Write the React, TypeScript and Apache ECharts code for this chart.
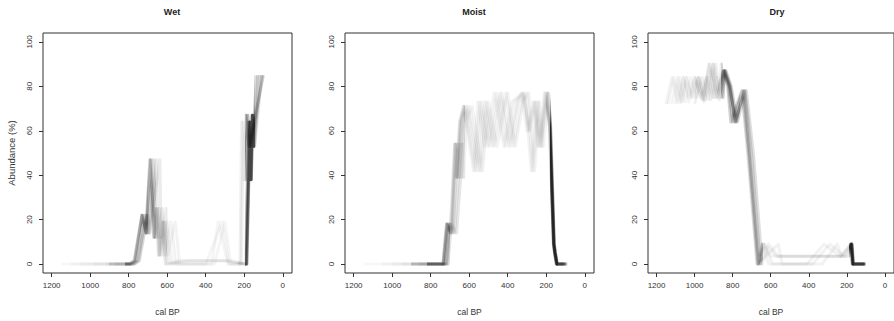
import { useEffect, useRef } from "react";
import * as echarts from "echarts";

const panelTitles = ["Wet", "Moist", "Dry"];
const xTicks = [0, 200, 400, 600, 800, 1000, 1200];
const yTicks = [0, 20, 40, 60, 80, 100];

// Wet: abundance per sample (old -> young); two value variants, ages per age-model run
const wetValuesA = [0, 0, 1.5, 22, 14, 47, 12, 25, 4, 19, 0, 1.5, 1.5, 1.5, 1.5, 0, 64, 38, 67, 53, 85];
const wetValuesB = [0, 0, 1.5, 22, 14, 47, 12, 25, 4, 19, 0, 0, 0, 19, 0, 0, 64, 38, 67, 53, 85];
const wetRunSet = [0, 0, 1, 0, 1, 1];
const wetAges = [
  [1150, 800, 772, 732, 712, 690, 670, 658, 646, 625, 610, 540, 430, 335, 300, 190, 172, 165, 158, 150, 130],
  [1050, 795, 770, 731, 710, 688, 668, 655, 642, 620, 600, 525, 415, 325, 290, 188, 170, 164, 157, 148, 120],
  [980, 790, 766, 730, 708, 685, 664, 650, 638, 612, 590, 510, 400, 315, 280, 186, 169, 163, 155, 146, 110],
  [920, 782, 760, 720, 702, 672, 658, 640, 630, 600, 575, 495, 390, 305, 265, 195, 176, 168, 160, 152, 138],
  [870, 775, 752, 710, 696, 655, 648, 625, 615, 580, 555, 480, 370, 335, 285, 215, 205, 195, 182, 165, 104],
  [1100, 768, 745, 702, 690, 638, 632, 605, 598, 558, 535, 470, 355, 300, 270, 222, 214, 204, 192, 175, 100],
];

// Moist
const moistValuesA = [0, 0, 0, 18, 14, 54, 39, 64, 71, 42, 73, 53, 77, 53, 73, 77, 60, 73, 53, 77, 62, 9, 5, 0, 0];
const moistValuesB = [0, 0, 0, 18, 14, 54, 39, 64, 71, 42, 73, 53, 77, 53, 73, 77, 42, 73, 53, 77, 62, 9, 5, 0, 0];
const moistRunSet = [0, 0, 0, 1, 1, 1];
const moistAges = [
  [950, 800, 737, 718, 698, 676, 668, 650, 630, 578, 555, 520, 470, 420, 380, 322, 290, 262, 238, 200, 182, 161, 155, 145, 100],
  [1150, 795, 735, 716, 694, 673, 664, 646, 625, 570, 545, 505, 455, 410, 365, 318, 285, 255, 232, 195, 181, 160, 154, 143, 105],
  [1050, 790, 732, 712, 690, 668, 660, 640, 618, 560, 535, 495, 440, 395, 350, 330, 300, 268, 245, 205, 183, 162, 156, 146, 95],
  [900, 780, 725, 705, 684, 660, 652, 632, 610, 548, 520, 480, 430, 385, 345, 312, 278, 250, 228, 190, 179, 159, 153, 144, 110],
  [1000, 770, 718, 700, 676, 645, 640, 625, 600, 540, 510, 470, 410, 370, 330, 300, 270, 240, 222, 210, 184, 163, 157, 148, 98],
  [860, 760, 710, 692, 665, 632, 628, 615, 585, 530, 500, 455, 400, 360, 320, 290, 260, 235, 215, 188, 177, 158, 152, 142, 90],
];

// Dry
const dryValuesA = [72, 84, 73, 84, 75, 84, 74, 90, 75, 87, 80, 64, 78, 49, 0, 9, 3.5, 3.5, 3.5, 3.5, 3.5, 9, 0, 0];
const dryValuesB = [72, 84, 73, 84, 75, 84, 74, 90, 75, 87, 80, 64, 78, 49, 0, 9, 0, 0, 0, 9, 3.5, 9, 0, 0];
const dryRunSet = [0, 1, 0, 1, 0, 1];
const dryAges = [
  [1000, 975, 950, 930, 905, 885, 870, 860, 850, 842, 818, 782, 742, 712, 665, 640, 600, 450, 400, 300, 220, 176, 168, 105],
  [1150, 1120, 1090, 1060, 1030, 1000, 960, 920, 880, 845, 815, 785, 738, 708, 660, 635, 590, 440, 380, 290, 210, 175, 166, 110],
  [1100, 1080, 1050, 1020, 990, 960, 930, 900, 870, 840, 812, 790, 735, 700, 655, 630, 570, 430, 360, 280, 200, 174, 167, 100],
  [1140, 1110, 1070, 1040, 1010, 980, 945, 905, 885, 848, 822, 800, 748, 715, 668, 645, 610, 470, 410, 320, 235, 178, 170, 102],
  [1080, 1060, 1030, 1000, 970, 940, 915, 890, 860, 835, 808, 775, 728, 690, 645, 610, 560, 420, 350, 260, 190, 172, 164, 108],
  [1120, 1090, 1065, 1045, 1015, 985, 955, 925, 895, 850, 826, 810, 752, 720, 672, 560, 540, 380, 330, 250, 230, 180, 171, 104],
];

// grey-scale shading by age band (style): [from age, to age, alpha per run]
const wetShade = [
  [900, 1300, 0.03], [820, 900, 0.06], [740, 820, 0.14], [700, 740, 0.16], [660, 700, 0.13],
  [600, 660, 0.08], [540, 600, 0.05], [230, 540, 0.04], [195, 230, 0.06], [145, 195, 0.28], [-60, 145, 0.13],
];
const moistShade = [
  [900, 1300, 0.03], [820, 900, 0.07], [740, 820, 0.15], [700, 740, 0.17], [620, 700, 0.1],
  [200, 620, 0.05], [183, 200, 0.07], [140, 183, 0.28], [-60, 140, 0.2],
];
const dryShade = [
  [1000, 1300, 0.045], [860, 1000, 0.065], [760, 860, 0.18], [640, 760, 0.13], [190, 640, 0.05],
  [160, 190, 0.28], [-60, 160, 0.22],
];

const panels = [
  { valueSets: [wetValuesA, wetValuesB], runSet: wetRunSet, ages: wetAges, shade: wetShade },
  { valueSets: [moistValuesA, moistValuesB], runSet: moistRunSet, ages: moistAges, shade: moistShade },
  { valueSets: [dryValuesA, dryValuesB], runSet: dryRunSet, ages: dryAges, shade: dryShade },
];

const gridLefts = [43, 345, 648];
const FONT = "'Liberation Sans', Arial, sans-serif";

export default function App() {
  const ref = useRef<HTMLDivElement>(null);
  useEffect(() => {
    if (!ref.current) return;
    const chart = echarts.init(ref.current, null, { renderer: "svg" });
    const grids = gridLefts.map((left) => ({
      left,
      top: 33,
      width: 249,
      height: 246,
      show: true,
      borderColor: "#333",
      borderWidth: 1,
      backgroundColor: "transparent",
    }));
    const xAxes = gridLefts.map((_, i) => ({
      type: "value",
      gridIndex: i,
      inverse: true,
      min: -48,
      max: 1245,
      axisLine: { show: false, onZero: false },
      axisTick: { show: true, length: 4, customValues: xTicks, lineStyle: { color: "#333" } },
      axisLabel: {
        customValues: xTicks,
        formatter: (v: number) => String(v),
        fontSize: 8,
        color: "#333",
        margin: 8,
        fontFamily: FONT,
      },
      splitLine: { show: false },
      name: "cal BP",
      nameLocation: "middle",
      nameGap: 34,
      nameTextStyle: { fontSize: 8.5, color: "#333", fontFamily: FONT },
    }));
    const yAxes = gridLefts.map((_, i) => ({
      type: "value",
      gridIndex: i,
      min: -4,
      max: 104,
      axisLine: { show: false, onZero: false },
      axisTick: { show: true, length: 4, customValues: yTicks, lineStyle: { color: "#333" } },
      axisLabel: {
        customValues: yTicks,
        formatter: (v: number) => String(v),
        fontSize: 8,
        color: "#333",
        margin: 10,
        rotate: 90,
        fontFamily: FONT,
      },
      splitLine: { show: false },
      name: i === 0 ? "Abundance (%)" : "",
      nameLocation: "middle",
      nameGap: 27,
      nameRotate: 90,
      nameTextStyle: { fontSize: 9.5, color: "#333", fontFamily: FONT },
    }));
    const series: any[] = [];
    const visualMaps: any[] = [];
    panels.forEach((p, pi) => {
      const idx: number[] = [];
      p.ages.forEach((run, ri) => {
        const vals = p.valueSets[p.runSet[ri]];
        idx.push(series.length);
        series.push({
          type: "line",
          xAxisIndex: pi,
          yAxisIndex: pi,
          data: run.map((a, k) => [a, vals[k]]),
          symbol: "none",
          silent: true,
          lineStyle: { width: 3, join: "round" },
        });
      });
      visualMaps.push({
        type: "piecewise",
        show: false,
        dimension: 0,
        seriesIndex: idx,
        pieces: p.shade.map(([lo, hi, a]) => ({ gte: lo, lt: hi, color: `rgba(0,0,0,${a})` })),
      });
    });
    chart.setOption({
      animation: false,
      backgroundColor: "#fff",
      title: panelTitles.map((t, i) => ({
        text: t,
        left: gridLefts[i] + 124,
        top: 2,
        textAlign: "center",
        textStyle: { fontSize: 9, fontWeight: "bold", color: "#222", fontFamily: FONT },
      })),
      grid: grids,
      xAxis: xAxes,
      yAxis: yAxes,
      visualMap: visualMaps,
      series,
    });
    return () => chart.dispose();
  }, []);
  return (
    <div
      ref={ref}
      style={{ position: "absolute", left: 0, top: 0, width: 894, height: 321 }}
    />
  );
}
